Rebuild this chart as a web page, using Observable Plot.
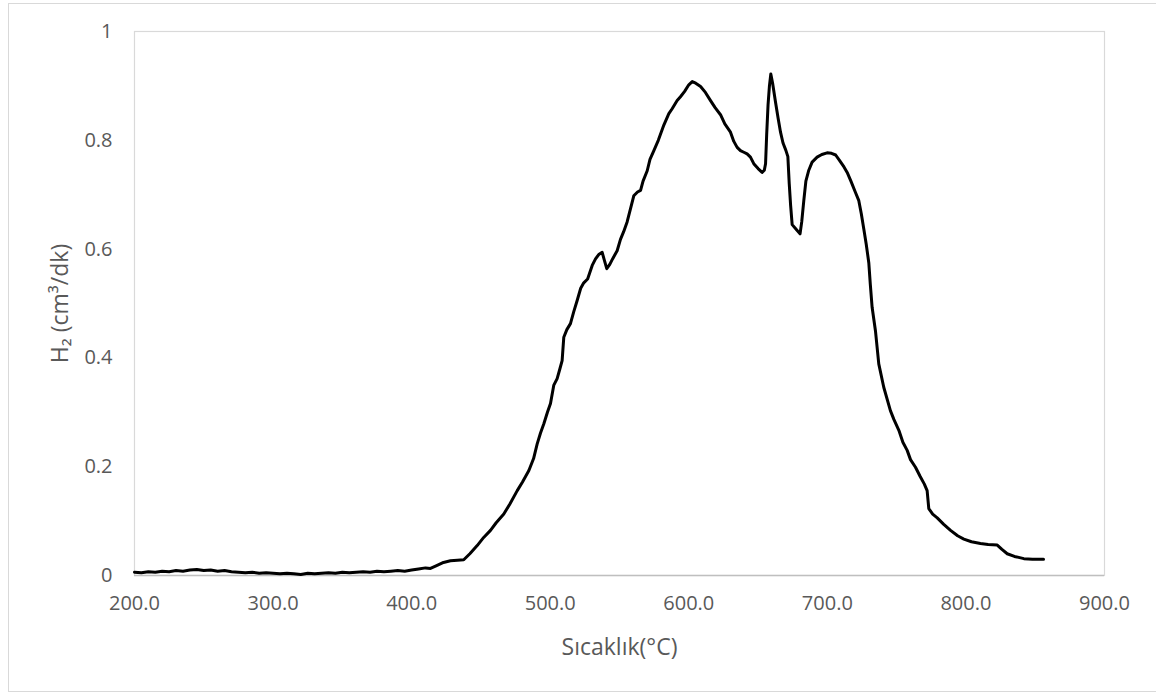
<!DOCTYPE html>
<html>
<head>
<meta charset="utf-8">
<script src="https://cdn.jsdelivr.net/npm/d3@7"></script>
<script src="https://cdn.jsdelivr.net/npm/@observablehq/plot@0.6"></script>
<style>
  html, body { margin: 0; padding: 0; background: #fff; overflow: hidden; }
  #wrap { position: relative; width: 1156px; height: 693px; }
  #border { position: absolute; left: 8px; top: 3px; width: 1160px; height: 689px;
            box-sizing: border-box; border: 1.5px solid #d9d9d9; pointer-events: none; }
  #chart { position: absolute; left: 0; top: 0; }
</style>
</head>
<body>
<div id="wrap"><div id="chart"></div><div id="border"></div></div>
<script>
// H2 consumption profile (TPR): temperature in °C and flow in cm³/dk
const temperature = [
  200, 205, 210, 215, 220, 225, 230, 235, 240, 245, 250, 255, 260, 265, 270, 275, 280, 285, 290, 295,
  300, 305, 310, 315, 320, 325, 330, 335, 340, 345, 350, 355, 360, 365, 370, 375, 380, 385, 390, 395,
  400, 405, 410, 413.6, 418, 423, 428, 433, 437.6, 442, 447.3, 452, 456.9, 461, 466.5, 471, 476.2, 480,
  484.6, 488, 490.6, 493, 495.4, 498, 500.2, 502.6, 505, 507, 508.6, 509.8, 512, 514.6, 517, 519.5, 522,
  524.2, 527, 530.3, 532.7, 535, 537.5, 539, 540.8, 543, 545, 548.3, 550.7, 553, 555.5, 558, 560.3, 563,
  565.2, 567, 570, 572, 574.8, 578, 582, 585.6, 588, 591.6, 594, 597, 600, 602.5, 605, 608.5, 612, 615.7,
  619, 622.9, 626, 630.1, 632.5, 634.9, 637.3, 639.7, 642.1, 644.5, 646.9, 650, 652.9, 654.5, 655.4,
  656.2, 657.2, 658.2, 659.2, 660.5, 662.6, 664.5, 666.2, 668, 670, 671.5, 672.5, 673.5, 674.6, 677,
  680.3, 681.5, 683, 684.5, 686.6, 689, 692.6, 696, 699.8, 703, 706, 709, 712, 714.3, 717, 720.3, 722.7,
  724.5, 726.3, 728, 729.9, 731, 732.3, 734.7, 737.1, 740.7, 745.5, 748, 751.6, 754.5, 757.6, 760, 763.6,
  767, 770, 772, 773.2, 776, 779.3, 784, 788.9, 794, 798.5, 804, 810.5, 816, 822.6, 826, 829.8, 835,
  841.8, 848, 856
];
const h2Flow = [
  0.006, 0.005, 0.007, 0.006, 0.008, 0.007, 0.009, 0.008, 0.010, 0.011, 0.009, 0.010, 0.008, 0.009, 0.007,
  0.006, 0.005, 0.006, 0.004, 0.005, 0.004, 0.003, 0.004, 0.003, 0.002, 0.004, 0.003, 0.004, 0.005, 0.004,
  0.006, 0.005, 0.006, 0.007, 0.006, 0.008, 0.007, 0.008, 0.009, 0.008,
  0.010, 0.012, 0.014, 0.013, 0.018, 0.024, 0.027, 0.028, 0.029, 0.040, 0.055, 0.070, 0.083, 0.097, 0.113,
  0.132, 0.156, 0.172, 0.193, 0.215, 0.242, 0.262, 0.279, 0.300, 0.316, 0.350, 0.362, 0.380, 0.395, 0.438,
  0.452, 0.463, 0.485, 0.506, 0.528, 0.538, 0.545, 0.570, 0.582, 0.590, 0.594, 0.580, 0.564, 0.572, 0.582,
  0.597, 0.618, 0.632, 0.650, 0.675, 0.698, 0.705, 0.708, 0.725, 0.744, 0.765, 0.781, 0.800, 0.828, 0.849,
  0.858, 0.873, 0.880, 0.890, 0.902, 0.908, 0.905, 0.899, 0.888, 0.873, 0.860, 0.847, 0.830, 0.815, 0.798,
  0.787, 0.781, 0.778, 0.775, 0.769, 0.757, 0.748, 0.741, 0.745, 0.757, 0.810, 0.865, 0.900, 0.922, 0.905,
  0.870, 0.840, 0.815, 0.795, 0.782, 0.770, 0.720, 0.680, 0.645, 0.638, 0.628, 0.650, 0.689, 0.725, 0.745,
  0.760, 0.769, 0.774, 0.777, 0.776, 0.773, 0.762, 0.751, 0.741, 0.725, 0.704, 0.689, 0.665, 0.637, 0.610,
  0.575, 0.535, 0.493, 0.450, 0.389, 0.346, 0.303, 0.287, 0.267, 0.245, 0.230, 0.213, 0.199, 0.182, 0.168,
  0.156, 0.123, 0.113, 0.106, 0.094, 0.083, 0.073, 0.067, 0.062, 0.059, 0.057, 0.056, 0.048, 0.040, 0.035,
  0.031, 0.030, 0.030
];
const xTicks = [200, 300, 400, 500, 600, 700, 800, 900];
const yTicks = [0, 0.2, 0.4, 0.6, 0.8, 1];
const xTitle = "Sıcaklık(°C)";
const yTitle = "H₂ (cm³/dk)";

const rows = temperature.map((t, i) => ({t, v: h2Flow[i]}));
const fontFamily = "'Open Sans', 'Noto Sans', sans-serif";
const textGray = "#595959";

const chart = Plot.plot({
  width: 1156,
  height: 693,
  marginLeft: 134,
  marginRight: 52,
  marginTop: 31,
  marginBottom: 118,
  style: {fontFamily, background: "transparent", overflow: "visible"},
  x: {domain: [200, 900]},
  y: {domain: [0, 1]},
  marks: [
    Plot.frame({stroke: "#d9d9d9", strokeWidth: 1.2}),
    Plot.ruleY([0], {stroke: "#bfbfbf", strokeWidth: 1.5}),
    Plot.axisX({
      ticks: xTicks, tickSize: 0, tickPadding: 20, tickFormat: d3.format(".1f"),
      fontSize: 20, fill: textGray, label: null
    }),
    Plot.axisY({
      ticks: yTicks, tickSize: 0, tickPadding: 22, tickFormat: d => String(d),
      fontSize: 20, fill: textGray, label: null
    }),
    // axis titles
    Plot.text([xTitle], {frameAnchor: "bottom", dy: 72, lineAnchor: "middle", textAnchor: "middle",
      fontSize: 23, fill: textGray}),
    Plot.text([yTitle], {frameAnchor: "left", dx: -74, rotate: -90, lineAnchor: "middle", textAnchor: "middle",
      fontSize: 23, fill: textGray}),
    Plot.line(rows, {x: "t", y: "v", stroke: "#000", strokeWidth: 3, strokeLinejoin: "round", curve: "linear"})
  ]
});
document.getElementById("chart").appendChild(chart);
</script>
</body>
</html>
